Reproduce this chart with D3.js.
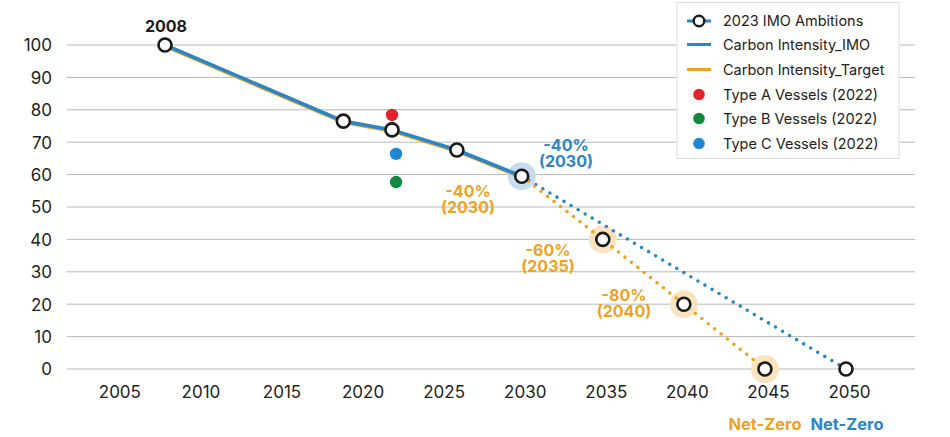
<!DOCTYPE html>
<html><head><meta charset="utf-8">
<script src="https://cdn.jsdelivr.net/npm/d3@7"></script>
<style>
body{margin:0;background:#fff;}
svg{display:block;font-family:Inter,"Noto Sans",sans-serif;}
</style></head>
<body><svg id="c" width="950" height="437"></svg>
<script>
// ---- data ----
const xTicks = [2005,2010,2015,2020,2025,2030,2035,2040,2045,2050];
const yTicks = [0,10,20,30,40,50,60,70,80,90,100];
const histYears = [2008,2019,2022,2026,2030];
const imoHist = [100,76.5,73.8,67.6,59.5];
const targetHist = [100,76.5,73.8,67.6,59.5];
const imoFutureYears = [2030,2050];
const imoFuture = [59.5,0];
const targetFutureYears = [2030,2035,2040,2045];
const targetFuture = [59.5,40,20,0];
const ambitionYears = [2008,2019,2022,2026,2030,2035,2040,2045,2050];
const ambitionValues = [100,76.5,73.8,67.6,59.5,40,20,0,0];
const vesselNames = ["Type A Vessels (2022)","Type B Vessels (2022)","Type C Vessels (2022)"];
const vesselYears = [2022,2022.25,2022.25];
const vesselValues = [78.4,57.7,66.4];
const vesselColors = ["#e5212b","#118a3e","#1f86cf"];
const blueHaloYears = [2030];
const blueHaloValues = [59.5];
const orangeHaloYears = [2035,2040,2045];
const orangeHaloValues = [40,20,0];

const BLUE="#2a86c6", ORANGE="#efa21f";

const svg=d3.select("#c");
const x=d3.scaleLinear().domain([2008,2050]).range([165,846]);
const y=d3.scaleLinear().domain([0,100]).range([369,45]);
const gx0=67,gx1=915;

// grid
svg.append("g").selectAll("line").data(yTicks).join("line")
 .attr("x1",gx0).attr("x2",gx1).attr("y1",d=>y(d)).attr("y2",d=>y(d))
 .attr("stroke",d=>d===0?"#cfcfcf":"#b8b8b8").attr("stroke-width",d=>d===0?1.6:1);

// y axis labels
const yAxis=d3.axisLeft(y).tickValues(yTicks).tickSize(0).tickPadding(0);
const gy=svg.append("g").attr("transform","translate(52,0)").call(yAxis);
gy.select(".domain").remove();
gy.selectAll("text").attr("font-size",17).attr("fill","#222").attr("font-family","Inter,sans-serif").attr("dy","0.35em");

// x axis labels
const xAxis=d3.axisBottom(x).tickValues(xTicks).tickFormat(d3.format("d")).tickSize(0).tickPadding(0);
const gxa=svg.append("g").attr("transform","translate(0,398)").call(xAxis);
gxa.select(".domain").remove();
gxa.selectAll("text").attr("font-size",17).attr("fill","#222").attr("font-family","Inter,sans-serif").attr("dx",3).attr("dy","0");

// halos
svg.append("g").selectAll("circle").data(blueHaloYears).join("circle")
 .attr("cx",(d)=>x(d)).attr("cy",(d,i)=>y(blueHaloValues[i])).attr("r",14).attr("fill","#c8dbef");
svg.append("g").selectAll("circle").data(orangeHaloYears).join("circle")
 .attr("cx",(d)=>x(d)).attr("cy",(d,i)=>y(orangeHaloValues[i])).attr("r",14).attr("fill","#fbe3bf");

const line=d3.line().x(d=>x(d[0])).y(d=>y(d[1]));
// dotted future lines
svg.append("path").datum(imoFutureYears.map((d,i)=>[d,imoFuture[i]])).attr("d",line)
 .attr("fill","none").attr("stroke",BLUE).attr("stroke-width",3.6).attr("stroke-linecap","round").attr("stroke-dasharray","0 8.2");
svg.append("path").datum(targetFutureYears.map((d,i)=>[d,targetFuture[i]])).attr("d",line)
 .attr("fill","none").attr("stroke",ORANGE).attr("stroke-width",3.6).attr("stroke-linecap","round").attr("stroke-dasharray","0 8.2");

// solid historical lines
svg.append("path").datum(histYears.map((d,i)=>[d,targetHist[i]])).attr("d",line)
 .attr("transform","translate(0,1.3)")
 .attr("fill","none").attr("stroke",ORANGE).attr("stroke-width",3.4);
svg.append("path").datum(histYears.map((d,i)=>[d,imoHist[i]])).attr("d",line)
 .attr("fill","none").attr("stroke",BLUE).attr("stroke-width",3.6);

// vessel dots
svg.append("g").selectAll("circle").data(vesselYears).join("circle")
 .attr("cx",d=>x(d)).attr("cy",(d,i)=>y(vesselValues[i])).attr("r",6.2).attr("fill",(d,i)=>vesselColors[i]);

// ambition markers
svg.append("g").selectAll("circle").data(ambitionYears).join("circle")
 .attr("cx",d=>x(d)).attr("cy",(d,i)=>y(ambitionValues[i])).attr("r",6.5)
 .attr("fill","#fff").attr("stroke","#1a1a1a").attr("stroke-width",2.6);

// annotations (two-line labels as tspans)
function ann(lines,cx,cy,color,size){
  const t=svg.append("text").attr("x",cx).attr("y",cy).attr("text-anchor","middle")
   .attr("font-size",size||16).attr("font-weight",700).attr("fill",color);
  lines.forEach((s,i)=>t.append("tspan").attr("x",cx).attr("dy",i===0?"0.35em":"1.05em").text(s));
}
ann(["2008"],x(2008)+1,26,"#1a1a1a",16);
ann(["-40%","(2030)"],566,145,BLUE);
ann(["-40%","(2030)"],468,191,ORANGE);
ann(["-60%","(2035)"],548,250,ORANGE);
ann(["-80%","(2040)"],624,295,ORANGE);
ann(["Net-Zero"],765,424,ORANGE,16.5); ann(["Net-Zero"],847,424,BLUE,16.5);

// legend
const lg=svg.append("g");
lg.append("rect").attr("x",677).attr("y",2.5).attr("width",222).attr("height",156)
 .attr("fill","#fff").attr("stroke","#dcdcdc").attr("stroke-width",1);
const legItems=["2023 IMO Ambitions","Carbon Intensity_IMO","Carbon Intensity_Target"].concat(vesselNames);
const legY=[21,44.5,69.5,94.5,118.5,143.5];
legItems.forEach((t,i)=>{
  const g=lg.append("g").attr("transform",`translate(0,${legY[i]})`);
  if(i===0){
    g.append("line").attr("x1",687).attr("x2",711).attr("stroke",BLUE).attr("stroke-width",3);
    g.append("circle").attr("cx",699).attr("r",5.3).attr("fill","#fff").attr("stroke","#1a1a1a").attr("stroke-width",2.4);
  } else if(i===1||i===2){
    g.append("line").attr("x1",687).attr("x2",711).attr("stroke",i===1?BLUE:ORANGE).attr("stroke-width",3);
  } else {
    g.append("circle").attr("cx",699).attr("r",5.8).attr("fill",vesselColors[i-3]);
  }
  g.append("text").attr("x",723).attr("dy","0.35em").attr("font-size",14.5).attr("fill","#222").text(t);
});
</script></body></html>
